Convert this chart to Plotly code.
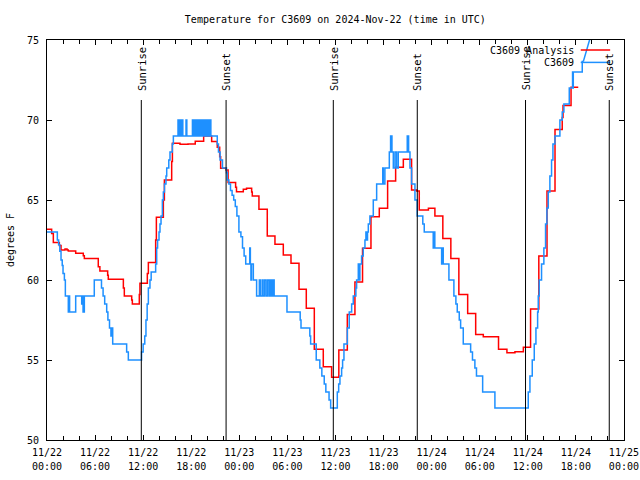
import pandas as pd
import plotly.graph_objects as go

BASE = pd.Timestamp("2024-11-22 00:00")

# C3609 Analysis (red), hours since 11/22 00:00 UTC, deg F
ANALYSIS_HOURS = [0.0, 0.58, 0.79, 1.54, 1.75, 2.25, 2.5, 2.66, 3.58, 4.53, 4.66, 6.4, 6.6, 7.57, 7.65,
                  9.53, 9.65, 10.57, 10.65, 11.52, 11.6, 12.52, 12.65, 13.56, 13.65, 14.52, 14.65, 15.56,
                  15.65, 16.6, 17.6, 18.5, 19.55, 20.55, 21.25, 21.55, 21.67, 22.34, 22.6, 23.54, 23.65,
                  24.5, 24.9, 25.54, 25.62, 26.45, 27.49, 28.45, 29.49, 30.45, 31.45, 32.36, 33.36, 34.48,
                  35.52, 36.42, 37.48, 38.43, 39.38, 40.43, 41.47, 42.51, 43.51, 44.47, 45.5, 46.13, 46.46,
                  47.6, 48.41, 49.4, 50.4, 51.4, 52.5, 53.5, 54.45, 56.35, 57.4, 58.4, 59.45, 60.35, 61.38,
                  62.4, 63.4, 64.3, 64.4, 65.4, 66.3]
ANALYSIS_TEMPS = [63.17, 62.9, 62.35, 62.15, 61.88, 61.94, 61.88, 61.81, 61.67, 61.52, 61.35, 60.83, 60.56,
                  60.3, 60.04, 59.5, 59.0, 58.75, 58.5, 59.1, 59.79, 60.4, 61.1, 62.5, 63.92, 65.0, 66.25,
                  67.4, 68.54, 68.48, 68.5, 68.67, 69.0, 68.65, 68.3, 67.7, 66.98, 66.88, 66.1, 65.8, 65.52,
                  65.67, 65.73, 65.5, 65.25, 64.42, 62.75, 62.23, 61.56, 61.04, 59.42, 58.23, 55.67, 54.58,
                  53.92, 55.63, 57.85, 59.88, 61.98, 63.96, 64.48, 66.19, 67.04, 67.54, 65.63, 65.56, 64.38,
                  64.48, 64.0, 62.6, 61.35, 59.1, 57.9, 56.6, 56.45, 55.67, 55.46, 55.52, 55.8, 58.19, 61.5,
                  65.56, 69.4, 70.15, 70.9, 72.04, 72.04]

# C3609 observations (blue)
OBS_HOURS = [0.0, 1.29, 1.45, 1.6, 1.75, 1.9, 2.0, 2.17, 2.29, 2.66, 2.75, 2.82, 3.58, 4.33, 4.45, 4.5, 4.66,
             5.9, 6.8, 7.0, 7.2, 7.45, 7.6, 7.8, 7.98, 8.05, 8.2, 9.94, 10.15, 11.8, 12.0, 12.2, 12.35, 12.5,
             12.65, 12.85, 13.0, 13.56, 13.69, 13.8, 13.98, 14.1, 14.23, 14.4, 14.52, 14.66, 14.85, 14.94,
             15.2, 15.35, 15.64, 15.77,
             16.35, 16.5, 16.6, 16.75, 16.85, 16.95, 17.35, 17.45, 18.15, 18.3, 18.4, 18.55, 18.65, 18.8,
             18.9, 19.0, 19.1, 19.25, 19.35, 19.45, 19.55, 19.65, 19.75, 19.85, 19.95, 20.1, 20.2, 20.3,
             20.35, 20.45,
             21.25, 21.4, 21.6, 21.9, 22.4, 22.5, 22.7, 22.9, 23.1, 23.3, 23.5, 23.7, 23.95, 24.2, 24.4,
             24.6, 24.8, 25.3, 25.38, 25.45, 25.52, 25.75, 26.16, 26.5, 26.62, 26.85, 26.95, 27.15, 27.35,
             27.55, 27.75, 27.9, 28.05, 28.2, 28.35, 29.95, 31.6, 31.7, 32.8, 32.9, 33.6, 34.05, 34.3,
             34.6, 34.8, 35.2, 35.4, 36.23, 36.4, 36.56, 36.77, 36.89, 37.06, 37.48, 37.72, 38.02, 38.22,
             38.55, 38.64, 38.85, 38.9, 39.05, 39.26, 39.47, 39.68, 39.8, 39.95, 40.0, 40.1, 40.3, 40.72,
             41.14, 41.9, 41.97, 42.17, 42.72, 42.88, 43.05, 43.22, 43.43, 43.63, 43.84, 44.96, 45.13,
             45.3, 45.5, 45.92, 46.2, 46.9, 47.08, 48.2, 48.3, 48.4, 49.25, 49.35, 49.45, 50.16, 50.78,
             51.03, 51.2, 51.45, 51.62, 51.95, 52.87, 53.1, 53.4, 53.6, 54.37, 55.9, 60.06, 60.27, 60.56,
             60.81, 61.02, 61.23, 61.31, 61.43, 61.72, 62.01, 62.22, 62.39, 62.56, 62.76, 62.97, 63.14,
             63.39, 64.01, 64.3, 64.51, 65.18, 65.59, 65.64, 65.68, 66.8, 66.93, 68.0]
OBS_TEMPS = [63.0, 62.5, 62.2, 61.8, 61.25, 60.9, 60.4, 60.0, 59.0, 58.0, 59.0, 58.0, 59.0, 58.5, 59.0, 58.0,
             59.0, 60.0, 59.5, 59.0, 58.5, 58.0, 57.5, 57.0, 56.5, 57.0, 56.0, 55.5, 55.0, 55.5, 56.0, 56.5,
             57.5, 58.5, 59.5, 60.0, 60.5, 61.0, 62.0, 62.5, 63.0, 63.5, 64.0, 65.0, 65.5, 66.0, 66.5, 67.0,
             67.5, 68.0, 68.5, 69.0,
             70, 69, 70, 69, 70, 69, 70, 69, 70, 69, 70, 69, 70, 69, 70, 69, 70, 69, 70, 69, 70, 69, 70, 69,
             70, 69, 70, 69, 70, 69,
             68.5, 68.0, 67.5, 67.0, 66.7, 66.25, 66.0, 65.6, 65.3, 65.0, 64.6, 64.0, 63.0, 62.7, 62.0,
             61.5, 61.0, 62.0, 61.0, 60.0, 61.0, 60.0, 59.0, 60, 59, 60, 59, 60, 59, 60, 59, 60, 59, 60, 59,
             58.0, 57.5, 57.0, 56.5, 56.0, 55.0, 54.5, 54.0, 53.5, 53.0, 52.5, 52.0, 53, 53.5, 54, 54.5, 55,
             56, 57, 58, 58.5, 59, 59.5, 60, 61, 60, 61, 61.5, 62, 62.5, 63, 62.5, 63, 63.5, 64, 65, 66, 67,
             66, 67, 68, 69, 68, 67, 68, 67, 68, 69, 68, 67, 66, 65, 64, 63.5, 63, 62, 63, 62, 61, 62, 61,
             60, 59, 58.5, 58, 57.5, 57, 56, 55.5, 55, 54.5, 54, 53, 52, 53, 54, 55, 56, 57, 58, 59, 60, 61,
             62, 63.5, 64.5, 65.5, 66.5, 67.5, 68.5, 69, 70, 70.5, 71, 72, 73, 72, 73, 73.65, 73.65, 75.5]

SUN_LABELS = ["Sunrise", "Sunset", "Sunrise", "Sunset", "Sunrise", "Sunset"]
SUN_HOURS = [11.77, 22.35, 35.73, 46.21, 59.72, 70.17]

TICK_HOURS = [0, 6, 12, 18, 24, 30, 36, 42, 48, 54, 60, 66, 72]
TICK_DATES = ["11/22", "11/22", "11/22", "11/22", "11/23", "11/23", "11/23", "11/23",
              "11/24", "11/24", "11/24", "11/24", "11/25"]
TICK_TIMES = ["00:00", "06:00", "12:00", "18:00", "00:00", "06:00", "12:00", "18:00",
              "00:00", "06:00", "12:00", "18:00", "00:00"]


def to_time(hours):
    return [BASE + pd.Timedelta(hours=h) for h in hours]


FONT = "DejaVu Sans Mono"
FS = 10
RED = "#ff0000"
BLUE = "#1e90ff"
XRANGE = [BASE, BASE + pd.Timedelta(hours=72.01)]

fig = go.Figure()

fig.add_trace(go.Scatter(x=to_time(ANALYSIS_HOURS), y=ANALYSIS_TEMPS, mode="lines",
                         line=dict(color=RED, width=1.5, shape="hv"), name="C3609 Analysis",
                         showlegend=False))
fig.add_trace(go.Scatter(x=to_time(OBS_HOURS[:-1]), y=OBS_TEMPS[:-1], mode="lines",
                         line=dict(color=BLUE, width=1.5, shape="hv"), name="C3609",
                         showlegend=False))
fig.add_trace(go.Scatter(x=to_time(OBS_HOURS[-2:]), y=OBS_TEMPS[-2:], mode="lines",
                         line=dict(color=BLUE, width=1.5), showlegend=False, hoverinfo="skip"))
# invisible trace that carries the second row of x tick labels
fig.add_trace(go.Scatter(x=XRANGE, y=[None, None], xaxis="x2", mode="lines",
                         showlegend=False, hoverinfo="skip"))

for lab, h in zip(SUN_LABELS, SUN_HOURS):
    t = BASE + pd.Timedelta(hours=h)
    fig.add_shape(type="line", xref="x", yref="y", x0=t, x1=t, y0=50, y1=71.25,
                  line=dict(color="black", width=1))
    fig.add_annotation(x=t, y=71.7, xref="x", yref="y", text=lab, textangle=-90,
                       showarrow=False, xanchor="center", yanchor="bottom",
                       font=dict(family=FONT, size=FS + 0.5, color="black"))

# legend (gnuplot style: text then sample)
for i, (name, col) in enumerate([("C3609 Analysis", RED), ("C3609", BLUE)]):
    yp = 0.975 - i * 0.031
    fig.add_annotation(x=0.916, y=yp, xref="paper", yref="paper", text=name, showarrow=False,
                       xanchor="right", yanchor="middle", font=dict(family=FONT, size=FS, color="black"))
    fig.add_shape(type="line", xref="paper", yref="paper", x0=0.925, x1=0.976, y0=yp, y1=yp,
                  line=dict(color=col, width=1.5))

fig.update_layout(
    width=640, height=480,
    margin=dict(l=47, r=16, t=40, b=40, autoexpand=False),
    paper_bgcolor="white", plot_bgcolor="white",
    font=dict(family=FONT, size=FS, color="black"),
    title=dict(text="Temperature for C3609 on 2024-Nov-22 (time in UTC)", x=0.524, xanchor="center",
               y=0.96, yanchor="middle", font=dict(family=FONT, size=FS)),
    xaxis=dict(
        type="date", range=XRANGE,
        tickvals=to_time(TICK_HOURS), ticktext=TICK_DATES, ticklabelstandoff=3,
        ticks="inside", ticklen=5, tickcolor="black", showline=True, linecolor="black", linewidth=1,
        mirror="ticks", showgrid=False, zeroline=False,
        minor=dict(dtick=2 * 3600 * 1000, ticks="inside", ticklen=4, tickcolor="black", showgrid=False),
    ),
    xaxis2=dict(
        type="date", range=XRANGE, overlaying="x", side="bottom", anchor="y",
        tickvals=to_time(TICK_HOURS), ticktext=TICK_TIMES, ticklabelstandoff=19,
        ticks="", showline=False, showgrid=False, zeroline=False,
    ),
    yaxis=dict(
        range=[50, 75], tickvals=[50, 55, 60, 65, 70, 75], ticks="inside", ticklen=5, tickcolor="black",
        showline=True, linecolor="black", linewidth=1, mirror="ticks", showgrid=False, zeroline=False,
        ticklabelstandoff=5,
        title=dict(text="degrees F", standoff=10, font=dict(family=FONT, size=FS)),
    ),
)

fig.write_html("out.html", config={"displayModeBar": False},
               post_script="document.body.style.margin='0px';")
